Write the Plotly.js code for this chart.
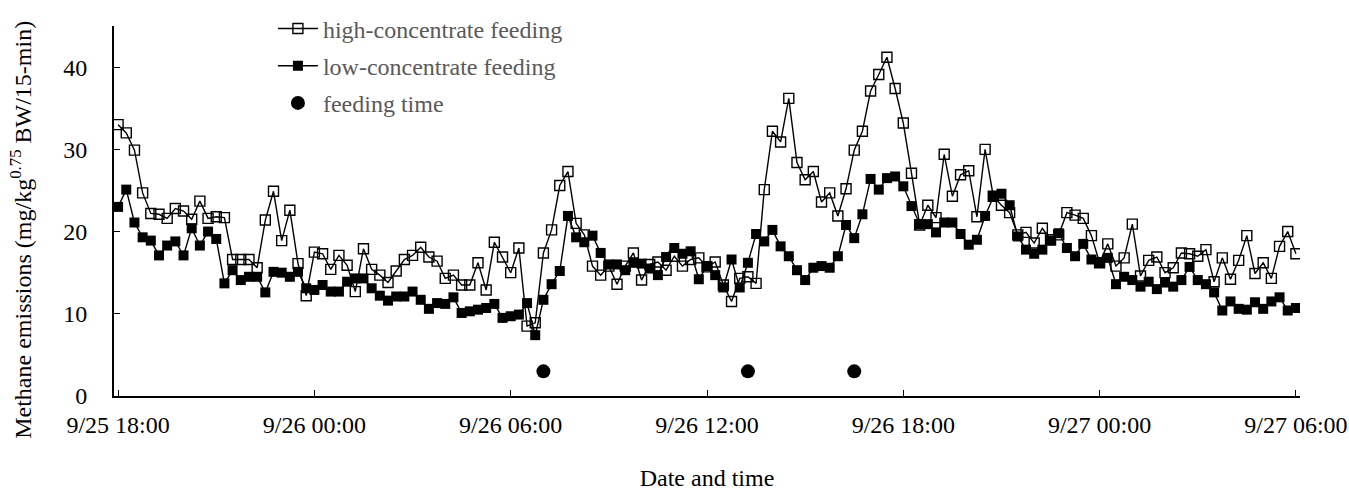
<!DOCTYPE html>
<html>
<head>
<meta charset="utf-8">
<script src="https://cdn.plot.ly/plotly-3.0.1.min.js"></script>
<style>
  html, body { margin: 0; padding: 0; background: #ffffff; }
  #chart { width: 1349px; height: 491px; }
</style>
</head>
<body>
<div id="chart"></div>
<script>
// ---- Data (15-min intervals from 9/25 18:00 to 9/27 06:00) ----
const startTime = '2019-09-25T18:00:00';
const stepMinutes = 15;

const highConcentrate = [
  33.0, 32.0, 29.9, 24.7, 22.2, 22.1, 21.6, 22.8, 22.5, 21.5,
  23.7, 21.6, 21.8, 21.7, 16.6, 16.6, 16.6, 15.6, 21.4, 24.9,
  18.9, 22.6, 16.1, 12.2, 17.5, 17.3, 15.4, 17.1, 15.9, 12.7,
  17.9, 15.4, 14.7, 13.8, 15.2, 16.6, 17.1, 18.1, 16.9, 16.4,
  14.3, 14.7, 13.5, 13.5, 16.2, 12.9, 18.7, 16.9, 15.0, 18.0,
  8.5, 8.9, 17.4, 20.2, 25.6, 27.3, 21.0, 19.6, 15.8, 14.7,
  15.8, 13.6, 15.8, 17.4, 14.1, 16.0, 16.3, 15.3, 17.0, 15.8,
  16.6, 16.8, 15.7, 16.3, 13.5, 11.5, 14.3, 14.5, 13.7, 25.1,
  32.2, 30.9, 36.2, 28.4, 26.3, 27.3, 23.6, 24.7, 21.9, 25.2,
  29.9, 32.2, 37.1, 39.1, 41.2, 37.4, 33.2, 27.1, 20.8, 23.2,
  21.7, 29.4, 24.3, 26.9, 27.4, 21.8, 30.0, 24.3, 23.2, 22.3,
  19.6, 19.9, 18.6, 20.4, 19.0, 19.6, 22.3, 22.0, 21.6, 19.5,
  16.2, 18.5, 15.8, 16.8, 20.9, 14.6, 16.5, 16.9, 15.0, 15.6,
  17.4, 17.3, 17.0, 17.8, 13.9, 16.8, 14.2, 16.5, 19.5, 14.9,
  16.2, 14.3, 18.2, 20.0, 17.3
];

const lowConcentrate = [
  23.0, 25.1, 21.1, 19.3, 18.9, 17.1, 18.3, 18.8, 17.1, 20.4,
  18.3, 20.0, 19.1, 13.7, 15.3, 14.1, 14.5, 14.5, 12.6, 15.1,
  15.0, 14.5, 15.1, 13.1, 12.9, 13.5, 12.7, 12.7, 13.9, 14.3,
  14.3, 13.1, 12.2, 11.6, 12.1, 12.1, 12.7, 11.7, 10.6, 11.3,
  11.2, 12.0, 10.1, 10.3, 10.5, 10.7, 11.2, 9.5, 9.7, 9.9,
  11.3, 7.4, 11.7, 13.6, 15.2, 21.9, 19.3, 18.7, 19.5, 17.4,
  16.0, 16.0, 15.3, 16.2, 16.1, 15.5, 14.7, 16.9, 18.0, 17.3,
  17.6, 14.2, 15.8, 14.7, 13.2, 16.6, 13.2, 16.2, 19.7, 18.8,
  20.2, 18.2, 17.0, 15.3, 14.1, 15.6, 15.8, 15.6, 17.0, 20.8,
  19.2, 22.1, 26.4, 25.1, 26.5, 26.7, 25.5, 23.1, 20.9, 20.9,
  19.9, 21.1, 21.1, 19.7, 18.4, 19.0, 21.9, 24.2, 24.6, 23.2,
  19.4, 17.8, 17.3, 17.8, 18.9, 19.8, 18.0, 17.0, 18.5, 16.6,
  16.2, 16.8, 13.6, 14.5, 14.1, 13.3, 13.9, 13.0, 13.8, 13.3,
  14.1, 15.7, 14.1, 13.6, 12.6, 10.4, 11.5, 10.6, 10.5, 11.4,
  10.6, 11.5, 12.0, 10.4, 10.7
];

const feedingTimes = ['2019-09-26 07:00', '2019-09-26 13:15', '2019-09-26 16:30'];
const feedingMarkerValues = [3, 3, 3];

const seriesNames = ['high-concentrate feeding', 'low-concentrate feeding', 'feeding time'];
const yTickValues = [0, 10, 20, 30, 40];
const xTitle = 'Date and time';
const yTitle = 'Methane emissions (mg/kg<sup>0.75</sup> BW/15-min)';

// ---- Build time categories ----
function pad(n) { return (n < 10 ? '0' : '') + n; }
function fmt(d) {
  return d.getFullYear() + '-' + pad(d.getMonth() + 1) + '-' + pad(d.getDate()) + ' ' +
         pad(d.getHours()) + ':' + pad(d.getMinutes());
}
const t0 = new Date(startTime);
const times = highConcentrate.map((_, i) => fmt(new Date(t0.getTime() + i * stepMinutes * 60000)));

const FONT = '"Liberation Serif", "Times New Roman", serif';

const traces = [
  {
    x: times, y: highConcentrate, name: seriesNames[0], legendgroup: 'g1',
    type: 'scatter', mode: 'lines+markers',
    line: { color: '#000000', width: 1.4 },
    marker: { symbol: 'square-open', size: 10, color: '#000000', line: { width: 1.4, color: '#000000' } }
  },
  {
    x: times, y: lowConcentrate, name: seriesNames[1], legendgroup: 'g2',
    type: 'scatter', mode: 'lines+markers',
    line: { color: '#000000', width: 1.4 },
    marker: { symbol: 'square', size: 10, color: '#000000' }
  },
  {
    x: feedingTimes, y: feedingMarkerValues, name: seriesNames[2], legendgroup: 'g3',
    type: 'scatter', mode: 'markers',
    marker: { symbol: 'circle', size: 14, color: '#000000' }
  }
];

const layout = {
  width: 1349, height: 491,
  margin: { l: 114, r: 49, t: 26, b: 95, autoexpand: false },
  paper_bgcolor: '#ffffff', plot_bgcolor: '#ffffff',
  font: { family: FONT, size: 24, color: '#000000' },
  showlegend: true,
  legend: {
    x: 0.134, y: 1.053, xanchor: 'left', yanchor: 'top',
    bgcolor: 'rgba(0,0,0,0)',
    font: { family: FONT, size: 24, color: '#595959' },
    itemwidth: 40,
    tracegroupgap: 3
  },
  xaxis: {
    type: 'date',
    range: ['2019-09-25 17:52:30', '2019-09-27 06:07:30'],
    tick0: '2019-09-25 18:00', dtick: 6 * 3600 * 1000,
    tickformat: '%-m/%d %H:%M',
    ticks: 'inside', ticklen: 6, tickwidth: 1, tickcolor: '#000',
    showline: true, linecolor: '#000', linewidth: 2,
    showgrid: false, zeroline: false,
    ticklabelstandoff: 6,
    tickfont: { family: FONT, size: 24, color: '#000' },
    title: { text: xTitle, font: { family: FONT, size: 24, color: '#000' }, standoff: 47 }
  },
  yaxis: {
    range: [0, 45],
    tickvals: yTickValues,
    ticks: 'inside', ticklen: 6, tickwidth: 1, tickcolor: '#000',
    showline: true, linecolor: '#000', linewidth: 2,
    showgrid: false, zeroline: false,
    ticklabelstandoff: 20,
    tickfont: { family: FONT, size: 24, color: '#000' }
  },
  annotations: [{
    text: yTitle, textangle: -90,
    xref: 'paper', yref: 'paper', x: -0.079, y: 0.45,
    xanchor: 'center', yanchor: 'middle', showarrow: false,
    font: { family: FONT, size: 24, color: '#000' }
  }]
};

Plotly.newPlot('chart', traces, layout, { displayModeBar: false, staticPlot: true });
</script>
</body>
</html>
